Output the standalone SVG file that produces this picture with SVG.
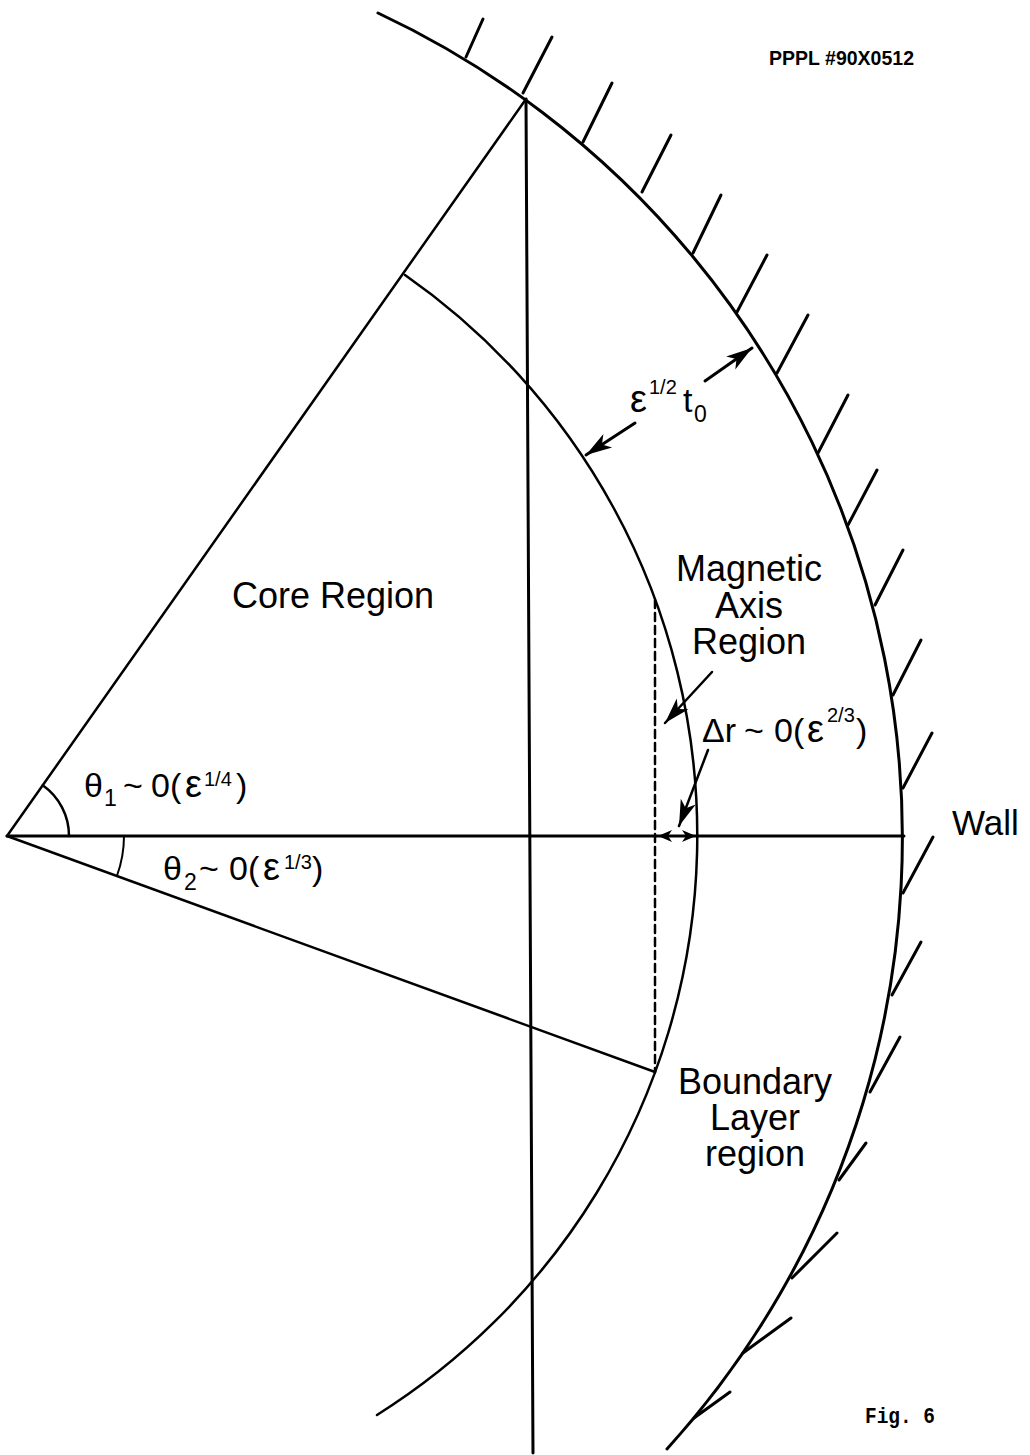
<svg xmlns="http://www.w3.org/2000/svg" width="1030" height="1455" viewBox="0 0 1030 1455">
<style>
.ln{fill:none;stroke:#000;stroke-linecap:round}
.t{font-family:"Liberation Sans",Arial,sans-serif;fill:#000}
.m{font-family:"Liberation Sans",Arial,sans-serif;font-size:34px;fill:#000}
.s{font-size:20px}
.e{font-size:38px}
</style>
<defs>
<marker id="ah" markerUnits="userSpaceOnUse" viewBox="-30 -10 32 20" refX="0" refY="0" markerWidth="32" markerHeight="20" orient="auto">
<path d="M0,0 L-26,-8 L-19,0 L-26,8 Z" fill="#000"/>
</marker>
<marker id="sh" markerUnits="userSpaceOnUse" viewBox="-16 -8 18 16" refX="0" refY="0" markerWidth="18" markerHeight="16" orient="auto-start-reverse">
<path d="M0,0 L-14,-6 L-10,0 L-14,6 Z" fill="#000"/>
</marker>
</defs>
<rect width="1030" height="1455" fill="#fff"/>

<g id="wall">
<path class="ln" stroke-width="3" d="M378,13 A911,911 0 0 1 667,1449"/>
<g class="ln" stroke-width="3">
<line x1="466" y1="57" x2="483" y2="19"/>
<line x1="523" y1="93" x2="552" y2="37"/>
<line x1="583" y1="142" x2="612" y2="83"/>
<line x1="642" y1="192" x2="671" y2="135"/>
<line x1="693" y1="253" x2="721" y2="195"/>
<line x1="737" y1="312" x2="767" y2="255"/>
<line x1="777" y1="373" x2="808" y2="315"/>
<line x1="818" y1="453" x2="848" y2="395"/>
<line x1="848" y1="525" x2="877" y2="470"/>
<line x1="875" y1="605" x2="903" y2="550"/>
<line x1="893" y1="695" x2="921" y2="640"/>
<line x1="903" y1="788" x2="932" y2="733"/>
<line x1="903" y1="893" x2="933" y2="837"/>
<line x1="892" y1="995" x2="921" y2="942"/>
<line x1="870" y1="1092" x2="900" y2="1037"/>
<line x1="839" y1="1180" x2="866" y2="1143"/>
<line x1="792" y1="1278" x2="837" y2="1233"/>
<line x1="743" y1="1353" x2="791" y2="1318"/>
<line x1="694" y1="1418" x2="730" y2="1392"/>
</g>
</g>

<g id="inner-boundary">
<path class="ln" stroke-width="2.5" d="M405,275 A684,684 0 0 1 377,1415"/>
</g>

<g id="rays">
<line class="ln" stroke-width="2.5" x1="7" y1="836" x2="526" y2="99"/>
<line class="ln" stroke-width="2.5" x1="7" y1="836" x2="655" y2="1072"/>
<line class="ln" stroke-width="3" x1="7" y1="836" x2="904" y2="836"/>
<line class="ln" stroke-width="3" x1="526" y1="99" x2="533" y2="1453"/>
<line class="ln" stroke-width="2.5" stroke-dasharray="8 5" stroke-linecap="butt" x1="655" y1="600" x2="655" y2="1072"/>
<path class="ln" stroke-width="2.5" d="M69,836 A62,62 0 0 0 42.7,785.3"/>
<path class="ln" stroke-width="2" d="M124,836 A117,117 0 0 1 116.9,876"/>
</g>

<g id="connectors">
<line class="ln" stroke-width="3" x1="635" y1="423" x2="586" y2="455" marker-end="url(#ah)"/>
<line class="ln" stroke-width="3" x1="705" y1="381" x2="752" y2="348" marker-end="url(#ah)"/>
<line class="ln" stroke-width="2.5" x1="712" y1="672" x2="665" y2="723" marker-end="url(#ah)"/>
<line class="ln" stroke-width="2.5" x1="708" y1="750" x2="679" y2="826" marker-end="url(#ah)"/>
<line class="ln" stroke-width="2" x1="658" y1="836" x2="696" y2="836" marker-start="url(#sh)" marker-end="url(#sh)"/>
</g>

<g id="label-id"><text class="t" x="769" y="65" font-size="20" font-weight="bold" textLength="145" lengthAdjust="spacingAndGlyphs">PPPL #90X0512</text></g>

<g id="label-core"><text class="t" x="232" y="608" font-size="36">Core Region</text></g>

<g id="label-magnetic" class="t" font-size="36" text-anchor="middle">
<text x="749" y="581">Magnetic</text>
<text x="749" y="618">Axis</text>
<text x="749" y="654">Region</text>
</g>

<g id="label-boundary" class="t" font-size="36" text-anchor="middle">
<text x="755" y="1094">Boundary</text>
<text x="755" y="1130">Layer</text>
<text x="755" y="1166">region</text>
</g>

<g id="label-wall"><text class="t" x="952" y="835" font-size="35">Wall</text></g>

<g id="label-eps"><text class="m"><tspan class="e" x="630" y="412">ε</tspan><tspan class="s" x="649" y="394" font-size="23">1/2</tspan><tspan x="683" y="412">t</tspan><tspan x="694" y="422" font-size="23">0</tspan></text></g>

<g id="label-theta1"><text class="m"><tspan x="84" y="797">θ</tspan><tspan x="104" y="806" font-size="23">1</tspan><tspan x="123" y="797">~</tspan><tspan x="151" y="797">0(</tspan><tspan class="e" x="185" y="797">ε</tspan><tspan class="s" x="204" y="786">1/4</tspan><tspan x="236" y="797">)</tspan></text></g>

<g id="label-theta2"><text class="m"><tspan x="163" y="880">θ</tspan><tspan x="184" y="890" font-size="23">2</tspan><tspan x="199" y="880">~</tspan><tspan x="229" y="880">0(</tspan><tspan class="e" x="263" y="880">ε</tspan><tspan class="s" x="284" y="869">1/3</tspan><tspan x="312" y="880">)</tspan></text></g>

<g id="label-dr"><text class="m"><tspan x="702" y="742">Δr</tspan><tspan x="744" y="742">~</tspan><tspan x="774" y="742">0(</tspan><tspan class="e" x="807" y="742">ε</tspan><tspan class="s" x="827" y="722">2/3</tspan><tspan x="856" y="742">)</tspan></text></g>

<g id="label-fig"><text x="865" y="1423" font-family="'Liberation Mono','Courier New',monospace" font-size="22" font-weight="bold" textLength="70" lengthAdjust="spacingAndGlyphs">Fig. 6</text></g>
</svg>
